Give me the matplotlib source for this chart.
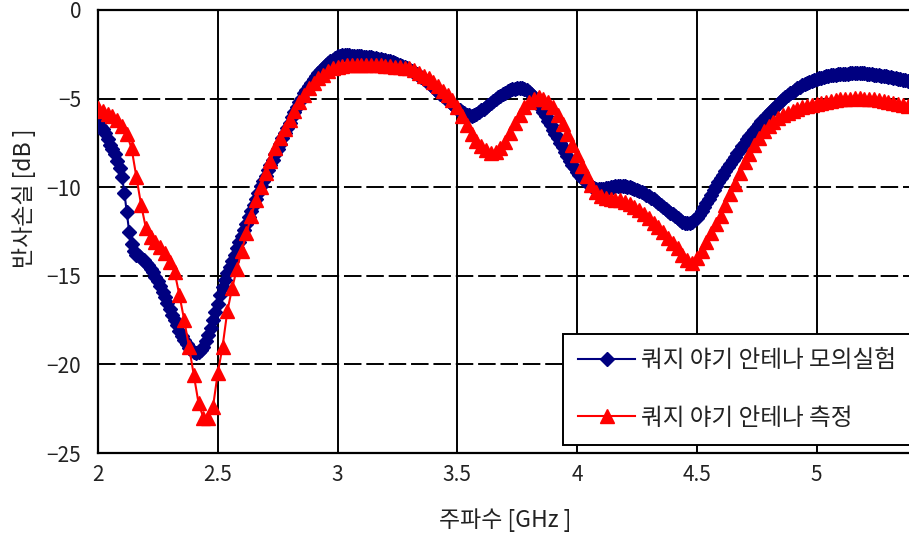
import numpy as np
import matplotlib
matplotlib.use("Agg")
import matplotlib.pyplot as plt

plt.rcParams['font.family'] = ['Noto Sans CJK KR', 'DejaVu Sans']

# simulated return loss, 2.00 .. 5.39 GHz every 0.01 GHz
sim_start, sim_step = 2.0, 0.01
sim_db = [
    -6.40, -6.55, -6.70, -6.95, -7.30, -7.60, -7.85, -8.10, -8.50, -8.90,
    -9.40, -10.30, -11.40, -12.50, -13.20, -13.60, -13.80, -13.90, -14.00, -14.10,
    -14.25, -14.40, -14.60, -14.80, -15.05, -15.30, -15.60, -15.90, -16.20, -16.55,
    -16.90, -17.20, -17.50, -17.80, -18.10, -18.40, -18.65, -18.85, -19.05, -19.20,
    -19.30, -19.35, -19.30, -19.20, -19.00, -18.70, -18.35, -17.95, -17.50, -17.05,
    -16.60, -16.10, -15.65, -15.25, -14.85, -14.50, -14.15, -13.80, -13.45, -13.10,
    -12.75, -12.40, -12.05, -11.70, -11.35, -11.00, -10.65, -10.30, -9.95, -9.65,
    -9.35, -9.05, -8.75, -8.45, -8.15, -7.85, -7.55, -7.25, -6.95, -6.65,
    -6.35, -6.05, -5.75, -5.45, -5.20, -4.95, -4.70, -4.50, -4.30, -4.10,
    -3.90, -3.70, -3.55, -3.40, -3.25, -3.10, -3.00, -2.90, -2.80, -2.70,
    -2.62, -2.58, -2.55, -2.55, -2.55, -2.56, -2.58, -2.58, -2.60, -2.60,
    -2.62, -2.63, -2.65, -2.66, -2.68, -2.70, -2.72, -2.74, -2.76, -2.80,
    -2.83, -2.86, -2.90, -2.94, -2.98, -3.02, -3.08, -3.14, -3.20, -3.27,
    -3.34, -3.42, -3.50, -3.60, -3.70, -3.80, -3.91, -4.02, -4.13, -4.25,
    -4.37, -4.49, -4.61, -4.73, -4.85, -4.97, -5.09, -5.21, -5.33, -5.45,
    -5.56, -5.66, -5.75, -5.83, -5.90, -5.95, -5.97, -5.95, -5.88, -5.78,
    -5.67, -5.56, -5.45, -5.34, -5.23, -5.12, -5.02, -4.92, -4.83, -4.74,
    -4.66, -4.59, -4.53, -4.48, -4.44, -4.42, -4.41, -4.42, -4.46, -4.53,
    -4.63, -4.76, -4.92, -5.10, -5.30, -5.52, -5.75, -6.00, -6.25, -6.50,
    -6.75, -7.00, -7.25, -7.50, -7.75, -8.00, -8.25, -8.50, -8.72, -8.93,
    -9.12, -9.30, -9.46, -9.60, -9.73, -9.85, -9.95, -10.03, -10.08, -10.10,
    -10.10, -10.08, -10.05, -10.02, -10.00, -9.98, -9.96, -9.95, -9.95, -9.95,
    -9.96, -9.98, -10.01, -10.05, -10.10, -10.15, -10.21, -10.28, -10.35, -10.43,
    -10.51, -10.60, -10.69, -10.79, -10.89, -10.99, -11.10, -11.21, -11.32, -11.43,
    -11.54, -11.65, -11.76, -11.86, -11.94, -12.00, -12.03, -12.02, -11.96, -11.86,
    -11.72, -11.55, -11.35, -11.13, -10.90, -10.66, -10.42, -10.18, -9.95, -9.72,
    -9.50, -9.29, -9.08, -8.88, -8.68, -8.48, -8.28, -8.08, -7.88, -7.68,
    -7.49, -7.30, -7.12, -6.94, -6.77, -6.60, -6.44, -6.29, -6.14, -6.00,
    -5.84, -5.70, -5.56, -5.42, -5.29, -5.16, -5.04, -4.92, -4.81, -4.70,
    -4.60, -4.50, -4.41, -4.33, -4.25, -4.18, -4.11, -4.05, -4.00, -3.95,
    -3.90, -3.86, -3.82, -3.78, -3.75, -3.72, -3.69, -3.67, -3.65, -3.63,
    -3.62, -3.61, -3.60, -3.59, -3.58, -3.57, -3.57, -3.57, -3.57, -3.58,
    -3.58, -3.59, -3.60, -3.62, -3.64, -3.66, -3.68, -3.70, -3.73, -3.75,
    -3.78, -3.80, -3.83, -3.85, -3.88, -3.90, -3.93, -3.96, -3.99, -4.02,
]

# measured return loss, 2.00 .. 5.38 GHz every 0.02 GHz
meas_start, meas_step = 2.0, 0.02
meas_db = [
    -5.55, -5.70, -5.85, -6.00, -6.20, -6.55, -7.00, -7.80, -9.40, -11.00,
    -12.30, -12.80, -13.10, -13.40, -13.70, -14.20, -14.80, -16.10, -17.50, -19.00,
    -20.60, -22.20, -23.00, -23.00, -22.40, -20.50, -19.00, -17.00, -15.70, -14.60,
    -13.60, -12.60, -11.60, -10.70, -10.00, -9.20, -8.50, -7.80, -7.20, -6.70,
    -6.20, -5.70, -5.20, -4.80, -4.40, -4.10, -3.85, -3.65, -3.45, -3.30,
    -3.20, -3.15, -3.10, -3.10, -3.10, -3.10, -3.10, -3.10, -3.10, -3.10,
    -3.15, -3.15, -3.20, -3.20, -3.25, -3.30, -3.40, -3.55, -3.70, -3.85,
    -4.05, -4.30, -4.55, -4.80, -5.10, -5.50, -6.00, -6.50, -7.00, -7.40,
    -7.70, -7.90, -8.05, -8.00, -7.80, -7.45, -6.95, -6.40, -5.90, -5.50,
    -5.20, -5.00, -4.90, -5.00, -5.20, -5.50, -5.95, -6.45, -7.00, -7.60,
    -8.20, -8.80, -9.35, -9.85, -10.25, -10.50, -10.60, -10.65, -10.70, -10.75,
    -10.85, -10.95, -11.10, -11.30, -11.50, -11.75, -12.00, -12.25, -12.55, -12.85,
    -13.15, -13.45, -13.80, -14.10, -14.25, -14.00, -13.60, -13.10, -12.60, -12.10,
    -11.60, -11.00, -10.40, -9.80, -9.20, -8.60, -8.10, -7.60, -7.20, -6.85,
    -6.55, -6.30, -6.10, -5.95, -5.80, -5.70, -5.60, -5.50, -5.42, -5.35,
    -5.30, -5.25, -5.20, -5.15, -5.10, -5.05, -5.02, -5.00, -4.98, -4.98,
    -5.00, -5.02, -5.05, -5.10, -5.15, -5.20, -5.25, -5.30, -5.35, -5.40,
]

sim_label = "쿼지 야기 안테나 모의실험"
meas_label = "쿼지 야기 안테나 측정"
x_ticks = [2, 2.5, 3, 3.5, 4, 4.5, 5]
x_tick_labels = ["2", "2.5", "3", "3.5", "4", "4.5", "5"]
y_ticks = [0, -5, -10, -15, -20, -25]

sim_f = sim_start + sim_step * np.arange(len(sim_db))
meas_f = meas_start + meas_step * np.arange(len(meas_db))

W, H = 909, 537
fig = plt.figure(figsize=(W / 100, H / 100), dpi=100)
ax = fig.add_axes([98 / W, (H - 453) / H, (W - 98) / W, 443 / H])

ax.plot(sim_f, sim_db, color="#000080", lw=1.5, marker="D", ms=7,
        mec="#000080", mfc="#000080", label=sim_label, zorder=3)
ax.plot(meas_f, meas_db, color="#ff0000", lw=1.5, marker="^", ms=9.5,
        mec="#ff0000", mfc="#ff0000", label=meas_label, zorder=4)

ax.set_xlim(2, 2 + (W - 98) / 239.5)
ax.set_ylim(-25, 0)
ax.set_xticks(x_ticks)
ax.set_xticklabels(x_tick_labels)
ax.set_yticks(y_ticks)

# solid vertical grid, dashed horizontal grid
for xv in x_ticks[1:]:
    ax.axvline(xv, color="black", lw=1.4, zorder=1)
for yv in y_ticks[1:-1]:
    ax.axhline(yv, color="black", lw=1.4, dashes=(9, 2.5), zorder=1)

for side in ["left", "bottom", "top"]:
    ax.spines[side].set_linewidth(1.6)
    ax.spines[side].set_color("black")
ax.spines["right"].set_visible(False)

ax.tick_params(axis="both", length=0, labelsize=15, colors="#222222")
ax.tick_params(axis="y", pad=12)
ax.tick_params(axis="x", pad=8)

fig.text(24 / W, 1 - 198 / H, "반사손실 [dB ]", rotation=90, ha="center",
         va="center", fontsize=16.5, color="#222222")
fig.text(505 / W, 1 - 520 / H, "주파수 [GHz ]", ha="center", va="center",
         fontsize=16.5, color="#222222")

leg = ax.legend(loc="lower left", bbox_to_anchor=((563 - 98) / (W - 98), (453 - 445) / 443),
                fontsize=17, frameon=True, fancybox=False, framealpha=1,
                edgecolor="black", handlelength=2.4, handletextpad=0.25,
                labelspacing=1.45, borderpad=0.65, borderaxespad=0)
leg.get_frame().set_linewidth(1.4)
for t in leg.get_texts():
    t.set_color("#222222")

fig.savefig("out.png", dpi=100)
